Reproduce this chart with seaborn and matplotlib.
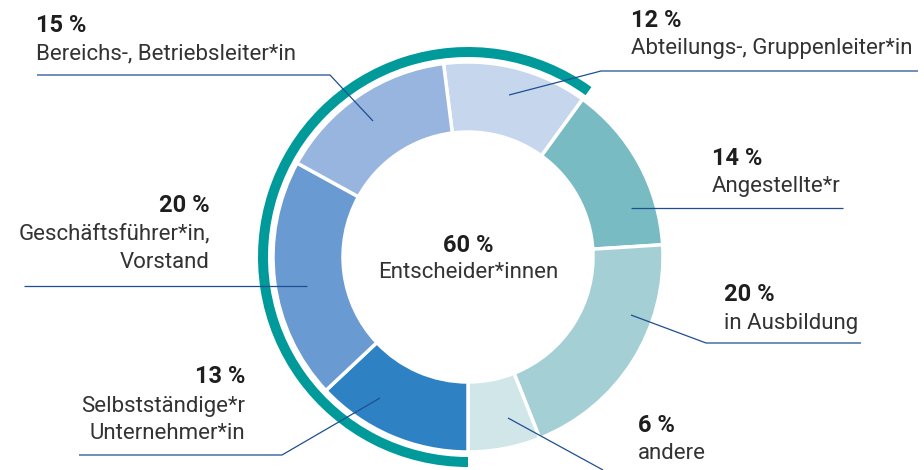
import matplotlib
matplotlib.use("Agg")
import matplotlib.pyplot as plt
from matplotlib.patches import Wedge
import seaborn as sns

# ---- data ----
categories = ["Abteilungs-, Gruppenleiter*in", "Angestellte*r", "in Ausbildung", "andere",
              "Selbstständige*r\nUnternehmer*in", "Geschäftsführer*in,\nVorstand",
              "Bereichs-, Betriebsleiter*in"]
shares = [12, 14, 20, 6, 13, 20, 15]
pct_labels = ["12 %", "14 %", "20 %", "6 %", "13 %", "20 %", "15 %"]
is_decider = [True, False, False, False, True, True, True]
center_value = "60 %"
center_label = "Entscheider*innen"

colors = ["#c6d6ec", "#79bbc3", "#a4cfd5", "#d1e6e9", "#2e82c4", "#6a9ad2", "#97b5de"]
teal = "#009a9a"
line_col = "#1d4f91"

sns.set_theme(style="white")
plt.rcParams["font.family"] = ["Roboto", "DejaVu Sans"]

W, H = 924, 470
fig = plt.figure(figsize=(W / 100, H / 100), dpi=100)
ax = fig.add_axes([0, 0, 1, 1])

def Y(p):
    return H - p

cx, cy = 468, Y(257)
R, width = 195, 70
total = sum(shares)
# start so that the non-decider block ends at 6 o'clock
first_block = shares[0] + shares[1] + shares[2] + shares[3]
start = -90 + 360 * first_block / total

ax.pie(shares, colors=colors, startangle=start, counterclock=False,
       center=(cx, cy), radius=R,
       wedgeprops=dict(width=width, edgecolor="white", linewidth=2.5))

# outer teal arc over the decision-makers (60 %)
theta_end = start - 360 * shares[0] / total
ax.add_patch(Wedge((cx, cy), 210, theta_end, 270, width=10, facecolor=teal, edgecolor="none"))

ax.set_xlim(0, W)
ax.set_ylim(0, H)
ax.set_aspect("equal")
ax.axis("off")

fs_b = 17
fs = 16
bold_col = "#1e1e1e"
txt_col = "#333333"

def lead(pts):
    xs = [p[0] for p in pts]
    ys = [Y(p[1]) for p in pts]
    ax.plot(xs, ys, color=line_col, lw=0.9, solid_capstyle="butt")

def label(x, yb_pct, yb_txt, pct, txt, ha="left", ls=27):
    ax.text(x, Y(yb_pct), pct, fontsize=fs_b, fontweight="bold", color=bold_col,
            ha=ha, va="baseline")
    for i, line in enumerate(txt.split("\n")):
        ax.text(x, Y(yb_txt + i * ls), line, fontsize=fs, color=txt_col,
                ha=ha, va="baseline")

# 12 % Abteilungs
label(631, 27, 54, pct_labels[0], categories[0])
lead([(918, 71), (601, 71), (509, 95)])
# 14 % Angestellte
label(712, 165, 192, pct_labels[1], categories[1])
lead([(631, 208), (843, 208)])
# 20 % Ausbildung
label(724, 301, 329, pct_labels[2], categories[2])
lead([(631, 315), (706, 343), (861, 343)])
# 6 % andere
label(638, 432, 459, pct_labels[3], categories[3])
lead([(508, 418), (603, 470)])
# 13 % Selbstständige
label(245, 383, 412, pct_labels[4], categories[4], ha="right")
lead([(79, 455), (282, 455), (380, 398)])
# 20 % Geschäftsführer
label(210, 212, 239, pct_labels[5], categories[5], ha="right", ls=29)
lead([(24, 286), (307, 286)])
# 15 % Bereichs
label(36, 32, 59, pct_labels[6], categories[6])
lead([(37, 75), (330, 75), (373, 121)])

# center
ax.text(cx, Y(252), center_value, fontsize=fs_b, fontweight="bold", color=bold_col,
        ha="center", va="baseline")
ax.text(cx, Y(278), center_label, fontsize=fs, color=txt_col, ha="center", va="baseline")

fig.savefig("out.png", dpi=100)
